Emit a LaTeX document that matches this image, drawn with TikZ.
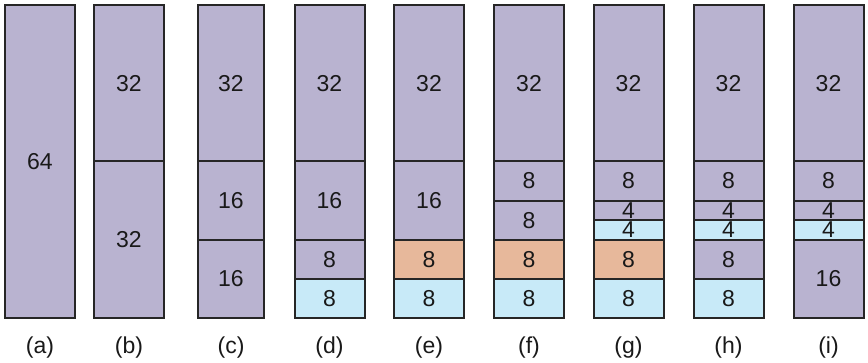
\documentclass[tikz,border=0pt]{standalone}
\usepackage{fontspec}
\setmainfont{Liberation Sans}
\usetikzlibrary{positioning}

\definecolor{lilac}{HTML}{B9B3D0}
\definecolor{salmon}{HTML}{E7B89B}
\definecolor{skyblue}{HTML}{C8EAF8}

\tikzset{
	blk/.style = {rectangle, draw = black!85, line width = 2pt, inner sep = 0pt, outer sep = 0pt,
		minimum width = 70pt, text = black!90, font = \fontsize{23}{23}\selectfont},
	sz/.style = {minimum height = #1*4.89pt},
	free/.style = {blk, fill = lilac},
	used/.style = {blk, fill = skyblue},
	busy/.style = {blk, fill = salmon},
	lbl/.style = {text = black!90, font = \fontsize{23}{23}\selectfont}
}

\begin{document}
\begin{tikzpicture}[x = 1pt, y = 1pt]
	\useasboundingbox (0,0) rectangle (868,-362);
	% (a)
	\node[free, sz = 64, anchor = north west] (a1) at (5,-5) {64};
	% (b)
	\node[free, sz = 32, anchor = north west] (b1) at (94,-5) {32};
	\node[free, sz = 32] (b2) [below = 0pt of b1] {32};
	% (c)
	\node[free, sz = 32, minimum width = 66pt, anchor = north west] (c1) at (198,-5) {32};
	\node[free, sz = 16, minimum width = 66pt] (c2) [below = 0pt of c1] {16};
	\node[free, sz = 16, minimum width = 66pt] (c3) [below = 0pt of c2] {16};
	% (d)
	\node[free, sz = 32, anchor = north west] (d1) at (294.5,-5) {32};
	\node[free, sz = 16] (d2) [below = 0pt of d1] {16};
	\node[free, sz = 8] (d3) [below = 0pt of d2] {8};
	\node[used, sz = 8] (d4) [below = 0pt of d3] {8};
	% (e)
	\node[free, sz = 32, anchor = north west] (e1) at (394,-5) {32};
	\node[free, sz = 16] (e2) [below = 0pt of e1] {16};
	\node[busy, sz = 8] (e3) [below = 0pt of e2] {8};
	\node[used, sz = 8] (e4) [below = 0pt of e3] {8};
	% (f)
	\node[free, sz = 32, anchor = north west] (f1) at (494,-5) {32};
	\node[free, sz = 8] (f2) [below = 0pt of f1] {8};
	\node[free, sz = 8] (f3) [below = 0pt of f2] {8};
	\node[busy, sz = 8] (f4) [below = 0pt of f3] {8};
	\node[used, sz = 8] (f5) [below = 0pt of f4] {8};
	% (g)
	\node[free, sz = 32, anchor = north west] (g1) at (593.5,-5) {32};
	\node[free, sz = 8] (g2) [below = 0pt of g1] {8};
	\node[free, sz = 4] (g3) [below = 0pt of g2] {4};
	\node[used, sz = 4] (g4) [below = 0pt of g3] {4};
	\node[busy, sz = 8] (g5) [below = 0pt of g4] {8};
	\node[used, sz = 8] (g6) [below = 0pt of g5] {8};
	% (h)
	\node[free, sz = 32, anchor = north west] (h1) at (693.5,-5) {32};
	\node[free, sz = 8] (h2) [below = 0pt of h1] {8};
	\node[free, sz = 4] (h3) [below = 0pt of h2] {4};
	\node[used, sz = 4] (h4) [below = 0pt of h3] {4};
	\node[free, sz = 8] (h5) [below = 0pt of h4] {8};
	\node[used, sz = 8] (h6) [below = 0pt of h5] {8};
	% (i)
	\node[free, sz = 32, anchor = north west] (i1) at (793.5,-5) {32};
	\node[free, sz = 8] (i2) [below = 0pt of i1] {8};
	\node[free, sz = 4] (i3) [below = 0pt of i2] {4};
	\node[used, sz = 4] (i4) [below = 0pt of i3] {4};
	\node[free, sz = 16] (i5) [below = 0pt of i4] {16};
	% captions
	\node[lbl] (la) at (a1.south |- 0,-348) {(a)};
	\node[lbl] (lb) at (b1.south |- 0,-348) {(b)};
	\node[lbl] (lc) at (c1.south |- 0,-348) {(c)};
	\node[lbl] (ld) at (d1.south |- 0,-348) {(d)};
	\node[lbl] (le) at (e1.south |- 0,-348) {(e)};
	\node[lbl] (lf) at (f1.south |- 0,-348) {(f)};
	\node[lbl] (lg) at (g1.south |- 0,-348) {(g)};
	\node[lbl] (lh) at (h1.south |- 0,-348) {(h)};
	\node[lbl] (li) at (i1.south |- 0,-348) {(i)};
\end{tikzpicture}
\end{document}
